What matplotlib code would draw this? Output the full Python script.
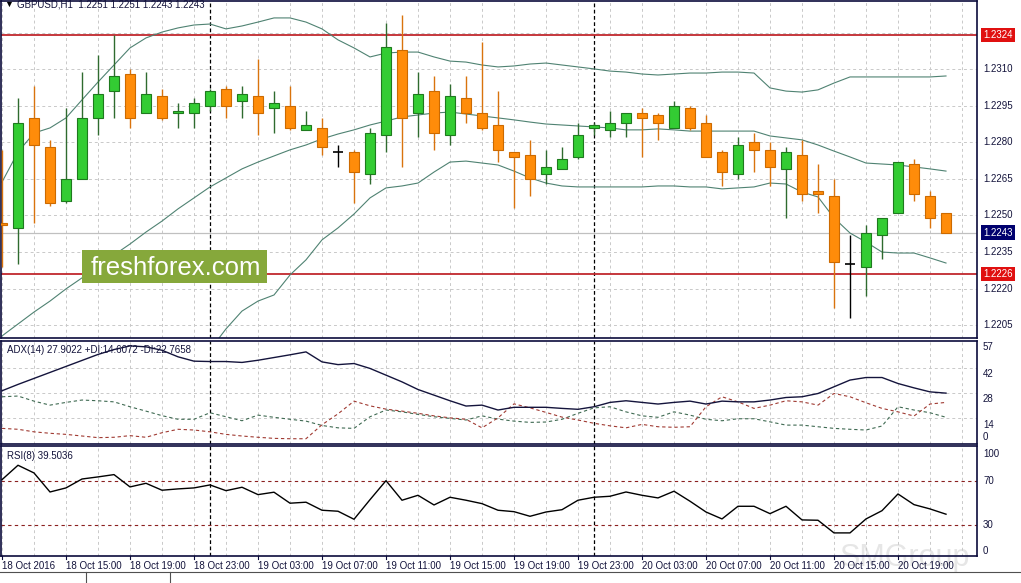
import numpy as np
import matplotlib
matplotlib.use('Agg')
import matplotlib.pyplot as plt
from matplotlib.patches import Rectangle
from matplotlib.lines import Line2D
from matplotlib.transforms import blended_transform_factory

plt.rcParams['font.family'] = ['Liberation Sans', 'DejaVu Sans']

# ---------------- data ----------------
opens = [1.2247, 1.2245, 1.2290, 1.2278, 1.2256, 1.2265, 1.2290, 1.2301, 1.2308, 1.2292,
         1.2299, 1.2292, 1.2292, 1.2295, 1.2302, 1.2297, 1.2299, 1.2294, 1.2295, 1.2285,
         1.2286, 1.2276, 1.2276, 1.2267, 1.2283, 1.2318, 1.2292, 1.2301, 1.2283, 1.2298,
         1.2292, 1.2287, 1.2276, 1.2275, 1.2267, 1.2269, 1.2274, 1.2286, 1.2285, 1.2288,
         1.2292, 1.2291, 1.2286, 1.2294, 1.2288, 1.2276, 1.2267, 1.2280, 1.2277, 1.2269,
         1.2275, 1.2260, 1.2258, 1.2230, 1.2229, 1.2242, 1.2251, 1.2271, 1.2258, 1.2251]
highs = [1.2277, 1.2298, 1.2303, 1.2281, 1.2294, 1.2309, 1.2316, 1.2324, 1.2310, 1.2309,
         1.2302, 1.2296, 1.2298, 1.2302, 1.2303, 1.2303, 1.2314, 1.2301, 1.2303, 1.2293,
         1.2290, 1.2279, 1.2277, 1.2286, 1.2329, 1.2332, 1.2309, 1.2307, 1.2304, 1.2307,
         1.2321, 1.2301, 1.2276, 1.2281, 1.2277, 1.2278, 1.2288, 1.2288, 1.2293, 1.2292,
         1.2294, 1.2292, 1.2297, 1.2295, 1.2291, 1.2277, 1.2282, 1.2284, 1.2280, 1.2278,
         1.2281, 1.2271, 1.2265, 1.2242, 1.2246, 1.2249, 1.2272, 1.2273, 1.2260, 1.2251]
lows = [1.2229, 1.2230, 1.2247, 1.2254, 1.2255, 1.2265, 1.2283, 1.2290, 1.2286, 1.2292,
        1.2289, 1.2286, 1.2286, 1.2293, 1.2290, 1.2290, 1.2283, 1.2284, 1.2285, 1.2285,
        1.2275, 1.2270, 1.2255, 1.2263, 1.2276, 1.2270, 1.2282, 1.2277, 1.2279, 1.2288,
        1.2285, 1.2272, 1.2253, 1.2258, 1.2263, 1.2269, 1.2273, 1.2283, 1.2282, 1.2282,
        1.2274, 1.2281, 1.2286, 1.2285, 1.2274, 1.2262, 1.2265, 1.2268, 1.2262, 1.2249,
        1.2256, 1.2251, 1.2212, 1.2208, 1.2217, 1.2232, 1.2251, 1.2256, 1.2245, 1.2243]
closes = [1.2246, 1.2288, 1.2279, 1.2255, 1.2265, 1.2290, 1.2300, 1.2307, 1.2290, 1.2300,
          1.2290, 1.2293, 1.2296, 1.2301, 1.2295, 1.2300, 1.2292, 1.2296, 1.2286, 1.2287,
          1.2278, 1.2276, 1.2268, 1.2284, 1.2319, 1.2290, 1.2300, 1.2284, 1.2299, 1.2292,
          1.2286, 1.2277, 1.2274, 1.2265, 1.2270, 1.2273, 1.2283, 1.2287, 1.2288, 1.2292,
          1.2290, 1.2288, 1.2295, 1.2286, 1.2274, 1.2268, 1.2279, 1.2277, 1.2270, 1.2276,
          1.2259, 1.2259, 1.2231, 1.2230, 1.2243, 1.2249, 1.2272, 1.2259, 1.2249, 1.2243]

bb_upper = [1.22637, 1.22760, 1.22838, 1.22859, 1.22900, 1.22974, 1.23047, 1.23117, 1.23187, 1.23228,
            1.23252, 1.23269, 1.23281, 1.23285, 1.23265, 1.23277, 1.23293, 1.23310, 1.23310, 1.23293,
            1.23265, 1.23220, 1.23187, 1.23150, 1.23166, 1.23170, 1.23170, 1.23150, 1.23133, 1.23129,
            1.23117, 1.23109, 1.23113, 1.23121, 1.23125, 1.23117, 1.23109, 1.23101, 1.23092, 1.23088,
            1.23080, 1.23076, 1.23080, 1.23084, 1.23084, 1.23088, 1.23088, 1.23084, 1.23023, 1.23010,
            1.23006, 1.23015, 1.23043, 1.23068, 1.23068, 1.23068, 1.23068, 1.23068, 1.23068, 1.23072]
bb_middle = [1.22006, 1.22055, 1.22104, 1.22149, 1.22199, 1.22244, 1.22293, 1.22338, 1.22383, 1.22432,
             1.22477, 1.22527, 1.22572, 1.22617, 1.22654, 1.22691, 1.22719, 1.22744, 1.22769, 1.22789,
             1.22814, 1.22834, 1.22851, 1.22871, 1.22887, 1.22904, 1.22912, 1.22920, 1.22924, 1.22916,
             1.22908, 1.22900, 1.22892, 1.22883, 1.22875, 1.22871, 1.22867, 1.22863, 1.22859, 1.22851,
             1.22851, 1.22855, 1.22851, 1.22846, 1.22846, 1.22846, 1.22846, 1.22846, 1.22826, 1.22818,
             1.22810, 1.22789, 1.22764, 1.22740, 1.22715, 1.22711, 1.22707, 1.22699, 1.22691, 1.22682]
nan = float('nan')
bb_lower = [nan, nan, nan, nan, nan, nan, nan, nan, nan, nan,
            nan, nan, nan, 1.21949, 1.22035, 1.22108, 1.22149, 1.22174, 1.22256, 1.22318,
            1.22400, 1.22449, 1.22506, 1.22572, 1.22613, 1.22621, 1.22633, 1.22678, 1.22719, 1.22723,
            1.22715, 1.22707, 1.22682, 1.22654, 1.22633, 1.22621, 1.22617, 1.22617, 1.22617, 1.22617,
            1.22617, 1.22621, 1.22621, 1.22617, 1.22617, 1.22609, 1.22613, 1.22617, 1.22633, 1.22629,
            1.22596, 1.22576, 1.22490, 1.22428, 1.22391, 1.22350, 1.22346, 1.22346, 1.22326, 1.22305]

adx = [29.2, 32.7, 36.0, 39.3, 42.6, 45.9, 49.2, 51.9, 53.9, 53.4,
       51.5, 47.9, 45.5, 45.3, 45.3, 44.8, 46.0, 47.5, 49.0, 50.6,
       45.1, 43.6, 44.2, 41.5, 37.8, 34.1, 29.9, 26.8, 23.7, 20.8,
       21.3, 18.6, 20.1, 20.1, 20.1, 19.5, 19.0, 20.4, 22.8, 23.7,
       22.8, 21.9, 22.8, 23.5, 21.9, 23.5, 23.1, 23.1, 24.1, 25.5,
       25.9, 27.7, 31.4, 35.1, 36.5, 36.5, 33.2, 30.8, 28.6, 27.9]
plus_di = [25.9, 26.3, 23.5, 21.3, 22.8, 24.1, 23.7, 23.1, 20.4, 18.0,
           15.5, 13.5, 13.5, 17.1, 14.9, 12.7, 15.8, 14.6, 13.5, 12.5,
           10.1, 8.8, 8.5, 14.9, 18.6, 17.6, 16.2, 14.9, 14.0, 13.1,
           15.4, 13.6, 12.5, 11.8, 12.0, 13.5, 16.8, 19.8, 20.4, 17.6,
           15.4, 14.6, 17.6, 15.8, 13.5, 12.7, 13.8, 13.8, 12.1, 10.3,
           10.3, 9.4, 8.5, 8.0, 7.6, 9.8, 20.4, 18.6, 17.1, 14.6]
minus_di = [8.5, 8.0, 6.6, 5.8, 5.2, 4.3, 3.4, 3.6, 4.5, 3.6,
            6.1, 8.0, 7.6, 6.6, 5.2, 4.3, 3.6, 3.0, 2.8, 2.8,
            10.5, 16.5, 23.5, 20.9, 19.1, 18.0, 16.8, 15.4, 14.3, 13.5,
            8.8, 14.3, 22.0, 19.8, 17.3, 14.7, 13.1, 11.3, 9.9, 8.8,
            10.7, 9.4, 9.1, 9.4, 20.4, 25.9, 23.1, 19.5, 21.3, 23.7,
            23.1, 21.3, 27.7, 25.9, 22.6, 19.5, 17.6, 15.3, 21.9, 22.8]
rsi = [70.9, 84.0, 77.0, 59.7, 63.4, 71.5, 73.4, 75.5, 64.3, 67.6,
       61.3, 62.5, 63.4, 66.1, 60.9, 64.0, 57.3, 59.5, 49.5, 50.4,
       43.1, 42.2, 34.9, 52.7, 70.0, 52.2, 56.7, 47.9, 54.9, 52.2,
       49.1, 43.1, 41.8, 37.6, 41.5, 43.6, 52.2, 54.9, 55.8, 59.7,
       56.7, 54.3, 60.4, 51.3, 41.5, 35.2, 46.7, 46.7, 40.0, 46.7,
       34.3, 34.0, 22.5, 22.5, 35.2, 42.7, 57.9, 48.2, 44.3, 39.5]

time_labels = ['18 Oct 2016', '18 Oct 15:00', '18 Oct 19:00', '18 Oct 23:00', '19 Oct 03:00',
               '19 Oct 07:00', '19 Oct 11:00', '19 Oct 15:00', '19 Oct 19:00', '19 Oct 23:00',
               '20 Oct 03:00', '20 Oct 07:00', '20 Oct 11:00', '20 Oct 15:00', '20 Oct 19:00']
time_label_bars = [0, 4, 8, 12, 16, 20, 24, 28, 32, 36, 40, 44, 48, 52, 56]
day_separators = [13, 37]

price_ticks = [1.2205, 1.2220, 1.2235, 1.2250, 1.2265, 1.2280, 1.2295, 1.2310, 1.2325]
price_tick_labels = ['1.2205', '1.2220', '1.2235', '1.2250', '1.2265', '1.2280', '1.2295', '1.2310', '']
resistance = 1.2324
support = 1.2226
last_price = 1.2243

adx_ticks = [57, 42, 28, 14, 0]
rsi_ticks = [100, 70, 30, 0]
rsi_levels = [70, 30]

main_title = 'GBPUSD,H1  1.2251 1.2251 1.2243 1.2243'
adx_title = 'ADX(14) 27.9022 +DI:14.6072 -DI:22.7658'
rsi_title = 'RSI(8) 39.5036'

# ---------------- figure ----------------
W, H = 1021, 583
fig = plt.figure(figsize=(W / 100, H / 100), dpi=100, facecolor='white')


def rect(l, t, r, b):
    return [l / W, 1 - b / H, (r - l) / W, (b - t) / H]


ax_main = fig.add_axes(rect(1, 1, 977, 338), facecolor='none')
ax_adx = fig.add_axes(rect(1, 341, 977, 444), facecolor='none')
ax_rsi = fig.add_axes(rect(1, 446, 977, 556), facecolor='none')
axes = [ax_main, ax_adx, ax_rsi]

n = len(closes)
x = np.arange(n)
xlim = (-1 / 16, 975 / 16)

navy = '#0c0c3c'
grid_c = '#c9c9c9'
for ax in axes:
    ax.set_xlim(*xlim)
    ax.set_xticks([])
    ax.set_yticks([])
    for s in ax.spines.values():
        s.set_color(navy)
        s.set_linewidth(1.2)
    for gx in range(0, 62, 2):
        ax.axvline(gx, color=grid_c, lw=0.7, ls=(0, (3, 3)), zorder=0)
    for sx in day_separators:
        ax.axvline(sx, color='black', lw=0.9, ls=(0, (3, 2)), zorder=1)

ax_main.set_ylim(1.219976, 1.233794)
ax_adx.set_ylim(-0.1, 56.6)
ax_rsi.set_ylim(1.5, 101.5)

# main grid + levels
for p in price_ticks:
    ax_main.axhline(p, color=grid_c, lw=0.7, ls=(0, (3, 3)), zorder=0)
ax_main.axhline(last_price, color='#c0c0c0', lw=0.9, zorder=0.5)
ax_main.axhline(resistance, color='#c0282d', lw=1.3, zorder=2)
ax_main.axhline(support, color='#c0282d', lw=1.3, zorder=2)

# Bollinger bands
bb_col = '#4f8272'
ax_main.plot(x, bb_upper, color=bb_col, lw=0.8, zorder=2)
ax_main.plot(x, bb_middle, color=bb_col, lw=0.8, zorder=2)
ax_main.plot(x, bb_lower, color=bb_col, lw=0.8, zorder=2)

# candles
o = np.array(opens); h = np.array(highs); l = np.array(lows); c = np.array(closes)
up = c > o
dn = c < o
dj = c == o
bw = 0.62
ax_main.vlines(x[up], l[up], h[up], color='#2f6b2f', lw=1.0, zorder=3)
ax_main.vlines(x[dn], l[dn], h[dn], color='#d9730d', lw=1.0, zorder=3)
ax_main.vlines(x[dj], l[dj], h[dj], color='black', lw=1.0, zorder=3)
ax_main.bar(x[up], (c - o)[up], bottom=o[up], width=bw, color='#33cc33',
            edgecolor='#1e7a1e', lw=0.8, zorder=4)
ax_main.bar(x[dn], (o - c)[dn], bottom=c[dn], width=bw, color='#ff8c0a',
            edgecolor='#cc6a00', lw=0.8, zorder=4)
ax_main.hlines(o[dj], x[dj] - bw / 2, x[dj] + bw / 2, color='black', lw=1.2, zorder=4)

# ADX panel
for g in [14, 28, 42]:
    ax_adx.axhline(g, color=grid_c, lw=0.7, ls=(0, (3, 3)), zorder=0)
ax_adx.plot(x, adx, color='#14143c', lw=1.0, zorder=3)
ax_adx.plot(x, plus_di, color='#3f6a52', lw=0.8, ls=(0, (3, 2.5)), zorder=2)
ax_adx.plot(x, minus_di, color='#a03a32', lw=0.8, ls=(0, (3, 2.5)), zorder=2)

# RSI panel
for lv in rsi_levels:
    ax_rsi.axhline(lv, color='#8b2020', lw=0.8, ls=(0, (3, 3)), zorder=1)
ax_rsi.plot(x, rsi, color='black', lw=1.0, zorder=3)

# ---------------- texts ----------------
txt_c = '#14143c'
fs = 7
lab_x = 983 / W

tr_main = blended_transform_factory(fig.transFigure, ax_main.transData)
for p, s in zip(price_ticks, price_tick_labels):
    if s:
        fig.text(lab_x, p, s, transform=tr_main, fontsize=fs, color=txt_c, va='center', ha='left')
fig.text(lab_x, 1.2340, '1.2340', transform=tr_main, fontsize=fs, color=txt_c, va='center', ha='left')
for val, fc in [(resistance, '#e01010'), (support, '#e01010'), (last_price, '#00006e')]:
    fig.text(lab_x, val, f'{val:.4f}', transform=tr_main, fontsize=fs, color='white',
             va='center', ha='left',
             bbox=dict(boxstyle='square,pad=0.25', fc=fc, ec='none'))

tr_adx = blended_transform_factory(fig.transFigure, ax_adx.transData)
for v in adx_ticks:
    va = 'bottom' if v == 0 else 'top'
    yv = 0.8 if v == 0 else v - 0.8
    fig.text(lab_x, yv, str(v), transform=tr_adx, fontsize=fs, color=txt_c, va=va, ha='left')

tr_rsi = blended_transform_factory(fig.transFigure, ax_rsi.transData)
for v in rsi_ticks:
    yv = {100: 94.0, 0: 6.5}.get(v, v)
    fig.text(lab_x, yv, str(v), transform=tr_rsi, fontsize=fs, color=txt_c, va='center', ha='left')

# time axis labels
tr_time = blended_transform_factory(ax_rsi.transData, fig.transFigure)
for b, s in zip(time_label_bars, time_labels):
    fig.text(b, 1 - 566 / H, s, transform=tr_time, fontsize=fs, color=txt_c, ha='left', va='center')
    fig.add_artist(Line2D([b, b], [1 - 556 / H, 1 - 559 / H], transform=tr_time, color=navy, lw=0.8))

# titles
fig.text(4 / W, 1 - 4.5 / H, '\u25bc', fontsize=6.5, color='black', va='center', ha='left')
fig.text(17 / W, 1 - 4.5 / H, main_title, fontsize=fs, color=txt_c, va='center', ha='left')
fig.text(7 / W, 1 - 350 / H, adx_title, fontsize=fs, color=txt_c, va='center', ha='left')
fig.text(7 / W, 1 - 456 / H, rsi_title, fontsize=fs, color=txt_c, va='center', ha='left')

# watermark box
fig.add_artist(Rectangle((82 / W, 1 - 283 / H), 185 / W, 33 / H, transform=fig.transFigure,
                         fc='#86a83b', ec='none', zorder=5))
fig.text(175.5 / W, 1 - 268 / H, 'freshforex.com', fontsize=18.5, color='white',
         ha='center', va='center', zorder=6)

# faint logo
fig.text(905 / W, 1 - 558 / H, 'SMGroup', fontsize=22, color='#e6e6e6',
         ha='center', va='center', zorder=-1)

# bottom tab bar
tab_c = '#505050'
fig.add_artist(Line2D([0, 1], [1 - 572 / H, 1 - 572 / H], transform=fig.transFigure, color=tab_c, lw=0.8))
for tx in [86, 170]:
    fig.add_artist(Line2D([tx / W, tx / W], [1 - 572 / H, 0], transform=fig.transFigure, color=tab_c, lw=0.8))

fig.savefig('out.png', dpi=100, facecolor='white')
